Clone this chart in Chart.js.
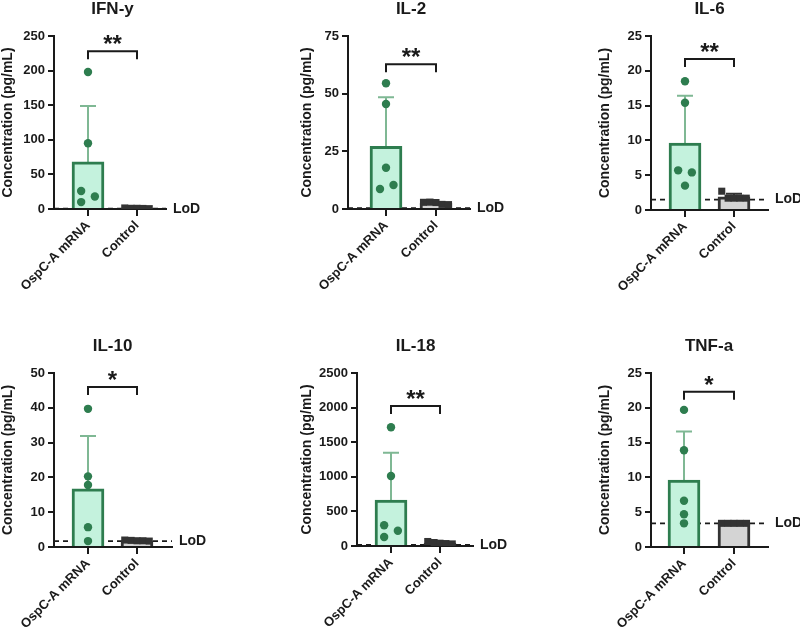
<!DOCTYPE html>
<html>
<head>
<meta charset="utf-8">
<script src="https://cdn.jsdelivr.net/npm/chart.js@4.4.1/dist/chart.umd.min.js"></script>
<style>
  html, body { margin: 0; padding: 0; background: #fff; }
  #wrap { position: relative; width: 800px; height: 631px; overflow: hidden; }
  canvas { position: absolute; }
</style>
</head>
<body>
<div id="wrap"></div>
<script>
// --- values ---
const cytokines = ['IFN-y', 'IL-2', 'IL-6', 'IL-10', 'IL-18', 'TNF-a'];
const groups = ['OspC-A mRNA', 'Control'];
const yMax = [250, 75, 25, 50, 2500, 25];
const yStep = [50, 25, 5, 10, 500, 5];

const ospcMean = [68, 27.2, 9.6, 16.7, 665, 9.6];
const ospcSD = [81, 21.3, 6.8, 15.2, 683, 7.0];
const ospcPoints = [
  [198, 95, 26, 18, 10],
  [54.5, 45.5, 17.9, 10.4, 8.7],
  [18.5, 15.4, 5.7, 5.4, 3.5],
  [39.7, 20.3, 17.8, 5.7, 1.7],
  [1715, 1011, 299, 221, 130],
  [19.7, 13.9, 6.65, 4.7, 3.4]
];
// x position of each dot, in category units around group 0
const ospcX = [
  [0, 0, -0.14, 0.14, -0.14],
  [0, 0, 0, 0.15, -0.12],
  [0, 0, -0.14, 0.14, 0],
  [0, 0, 0, 0, 0],
  [0, 0, -0.14, 0.14, -0.14],
  [0, 0, 0, 0, 0]
];

const ctrlMean = [1, 2.5, 1.9, 1.8, 44, 3.4];
const ctrlSD = [0.3, 0.5, 0.45, 0.1, 14, 0];
const ctrlPoints = [
  [1.5, 1, 1, 0.8, 0.5],
  [2.9, 3.0, 2.8, 2.0, 1.9],
  [2.7, 1.7, 1.7, 1.7, 1.7],
  [2.0, 1.9, 1.8, 1.8, 1.7],
  [65, 50, 40, 35, 30],
  [3.4, 3.4, 3.4, 3.4, 3.4]
];
// x position of the control squares, around group 1
const ctrlX = [0.75, 0.88, 1, 1.12, 1.25];

const lod = [0.5, 0.4, 1.5, 1.7, 15, 3.4];
const bracketY = [228, 62.7, 21.7, 46, 2023, 22.3];
const stars = ['**', '**', '**', '*', '**', '*'];

// --- layout: canvas rect and plot box, page pixels ---
const panels = [
  { cx: 0,   cy: 0,   cw: 267, ch: 310, L: 54,  R: 166, T: 36,  B: 209, c0: 88,  c1: 137, titleX: 8 },
  { cx: 267, cy: 0,   cw: 266, ch: 310, L: 348, R: 470, T: 36,  B: 209, c0: 386, c1: 436, titleX: 307 },
  { cx: 533, cy: 0,   cw: 267, ch: 310, L: 651, R: 768, T: 36,  B: 210, c0: 685, c1: 734, titleX: 605 },
  { cx: 0,   cy: 310, cw: 267, ch: 321, L: 54,  R: 172, T: 373, B: 547, c0: 88,  c1: 137, titleX: 8 },
  { cx: 267, cy: 310, cw: 266, ch: 321, L: 357, R: 473, T: 373, B: 546, c0: 391, c1: 440, titleX: 307 },
  { cx: 533, cy: 310, cw: 267, ch: 321, L: 651, R: 768, T: 373, B: 547, c0: 684, c1: 734, titleX: 605 }
];
const xAxisH = 80;

const FONT = "'Liberation Sans', Arial, sans-serif";
const ink = '#1a1a1a';
const green = '#2e7d4f';
const mint = '#c4f2dd';
const errGreen = '#7fb894';
const ctrlInk = '#333333';
const ctrlFill = '#d4d4d4';

// --- extra drawing: LoD line, error bars, title, bracket ---
const extras = {
  id: 'extras',
  beforeDatasetsDraw(chart) {
    const i = chart.options.plugins.extras.idx;
    const { ctx, chartArea: a, scales: { x, y } } = chart;
    ctx.save();
    ctx.strokeStyle = ink;
    ctx.lineWidth = 1.8;
    ctx.setLineDash([5, 4]);
    const ly = y.getPixelForValue(lod[i]);
    ctx.beginPath();
    ctx.moveTo(a.left, ly);
    ctx.lineTo(a.right, ly);
    ctx.stroke();
    ctx.setLineDash([]);
    // mean + SD, upper whisker only
    [[ospcMean[i], ospcSD[i], 0, errGreen], [ctrlMean[i], ctrlSD[i], 1, ctrlInk]].forEach(([m, sd, xi, col]) => {
      const px = x.getPixelForValue(xi);
      const y0 = y.getPixelForValue(m);
      const y1 = y.getPixelForValue(m + sd);
      ctx.strokeStyle = col;
      ctx.lineWidth = 2;
      ctx.beginPath();
      ctx.moveTo(px, y0);
      ctx.lineTo(px, y1);
      ctx.moveTo(px - 8, y1);
      ctx.lineTo(px + 8, y1);
      ctx.stroke();
    });
    ctx.restore();
  },
  afterDraw(chart) {
    const i = chart.options.plugins.extras.idx;
    const { ctx, chartArea: a, scales: { x, y } } = chart;
    ctx.save();
    ctx.fillStyle = ink;
    ctx.textAlign = 'center';
    ctx.textBaseline = 'middle';
    ctx.font = `bold 17px ${FONT}`;
    ctx.fillText(cytokines[i], x.getPixelForValue(0.5), a.top - 27);

    ctx.font = `bold 14px ${FONT}`;
    ctx.textAlign = 'left';
    ctx.fillText('LoD', a.right + 7, y.getPixelForValue(lod[i]));

    const bx0 = x.getPixelForValue(0);
    const bx1 = x.getPixelForValue(1);
    const by = y.getPixelForValue(bracketY[i]);
    ctx.strokeStyle = ink;
    ctx.lineWidth = 2;
    ctx.beginPath();
    ctx.moveTo(bx0, by + 8);
    ctx.lineTo(bx0, by);
    ctx.lineTo(bx1, by);
    ctx.lineTo(bx1, by + 8);
    ctx.stroke();

    ctx.font = `bold 24px ${FONT}`;
    ctx.textAlign = 'center';
    ctx.textBaseline = 'alphabetic';
    ctx.fillText(stars[i], (bx0 + bx1) / 2, by + 1);
    ctx.restore();
  }
};

const wrap = document.getElementById('wrap');

panels.forEach((p, i) => {
  const canvas = document.createElement('canvas');
  canvas.width = p.cw;
  canvas.height = p.ch;
  canvas.style.left = p.cx + 'px';
  canvas.style.top = p.cy + 'px';
  wrap.appendChild(canvas);

  const scaleLeft = Math.max(p.cx, p.titleX - 8.4);
  const yAxisW = p.L - scaleLeft;
  const unit = p.c1 - p.c0;

  new Chart(canvas, {
    type: 'bar',
    data: {
      datasets: [
        {
          type: 'scatter',
          data: ospcPoints[i].map((v, k) => ({ x: ospcX[i][k], y: v })),
          pointStyle: 'circle',
          pointRadius: 4.2,
          backgroundColor: green,
          borderWidth: 0,
          order: 1
        },
        {
          type: 'scatter',
          data: ctrlPoints[i].map((v, k) => ({ x: ctrlX[k], y: v })),
          pointStyle: 'rect',
          pointRadius: 5,
          backgroundColor: ctrlInk,
          borderWidth: 0,
          order: 1
        },
        {
          type: 'bar',
          data: [{ x: 0, y: ospcMean[i] }, { x: 1, y: ctrlMean[i] }],
          backgroundColor: [mint, ctrlFill],
          borderColor: [green, ctrlInk],
          borderWidth: 3,
          borderSkipped: 'start',
          barThickness: 32,
          order: 2
        }
      ]
    },
    options: {
      responsive: false,
      animation: false,
      devicePixelRatio: 1,
      layout: {
        padding: {
          left: scaleLeft - p.cx,
          right: p.cx + p.cw - p.R,
          top: p.T - p.cy,
          bottom: p.cy + p.ch - p.B - xAxisH
        }
      },
      scales: {
        x: {
          type: 'linear',
          offset: false,
          min: -(p.c0 - p.L) / unit,
          max: 1 + (p.R - p.c1) / unit,
          z: 1,
          afterBuildTicks: (s) => { s.ticks = [{ value: 0 }, { value: 1 }]; },
          afterFit: (s) => { s.height = xAxisH; },
          border: { color: ink, width: 2 },
          grid: { offset: false, drawOnChartArea: false, drawTicks: true, tickLength: 7, color: ink, lineWidth: 2 },
          ticks: {
            autoSkip: false,
            minRotation: 45,
            maxRotation: 45,
            padding: 2,
            color: ink,
            font: { family: FONT, size: 13, weight: 'bold' },
            callback: (v) => groups[v]
          }
        },
        y: {
          min: 0,
          max: yMax[i],
          afterFit: (s) => { s.width = yAxisW; },
          border: { color: ink, width: 2 },
          grid: { drawOnChartArea: false, drawTicks: true, tickLength: 6, color: ink, lineWidth: 2 },
          ticks: {
            stepSize: yStep[i],
            padding: 3,
            color: ink,
            font: { family: FONT, size: 13, weight: 'bold' },
            callback: (v) => String(v)
          },
          title: {
            display: true,
            text: 'Concentration (pg/mL)',
            color: ink,
            padding: { top: 0, bottom: 4 },
            font: { family: FONT, size: 14, weight: 'bold' }
          }
        }
      },
      plugins: {
        legend: { display: false },
        tooltip: { enabled: false },
        extras: { idx: i }
      }
    },
    plugins: [extras]
  });
});
</script>
</body>
</html>
